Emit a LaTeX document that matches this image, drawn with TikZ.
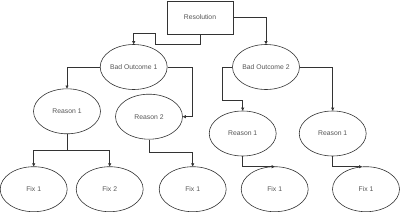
\documentclass[tikz,border=0pt]{standalone}
\usepackage{fontspec}
\setmainfont{Liberation Sans}
\usetikzlibrary{shapes.geometric,arrows.meta}
\definecolor{txt}{HTML}{555555}
\definecolor{ln}{HTML}{333333}
\tikzset{
  oval/.style={ellipse,draw=ln,line width=0.6pt,inner sep=0pt,minimum width=67pt,minimum height=45pt,font=\fontsize{6.8}{8}\selectfont,text=txt},
  boxn/.style={rectangle,draw=ln,line width=0.6pt,inner sep=0pt,minimum width=66pt,minimum height=33pt,font=\fontsize{6.8}{8}\selectfont,text=txt},
  conn/.style={draw=ln,line width=0.6pt,-{Triangle[width=3pt,length=3pt]}}
}
\begin{document}
\begin{tikzpicture}[x=1pt,y=-1pt]
\useasboundingbox (0,0) rectangle (400,212);
\node[boxn] (res) at (200,17.5) {Resolution};
\node[oval] (bo1) at (133.7,67) {Bad Outcome 1};
\node[oval] (bo2) at (266,67) {Bad Outcome 2};
\node[oval] (ra) at (67,111.3) {Reason 1};
\node[oval] (rb) at (149,116.7) {Reason 2};
\node[oval] (rc) at (242.7,133.5) {Reason 1};
\node[oval] (rd) at (332.7,133.5) {Reason 1};
\node[oval] (fa) at (33.7,189.2) {Fix 1};
\node[oval] (fb) at (109.7,189.2) {Fix 2};
\node[oval] (fc) at (192.7,189.2) {Fix 1};
\node[oval] (fd) at (274.7,189.2) {Fix 1};
\node[oval] (fe) at (366,189.2) {Fix 1};
\coordinate (jd) at (274.7,166.7);
\coordinate (je) at (362,166.7);
\draw[conn] (res.south) -- (200,44.7) -- (155.7,44.7) -- (155.7,33.7) -- (133.7,33.7) -- (bo1.north);
\draw[conn] (res.east) -| (bo2.north);
\draw[conn] (bo1.west) -| (ra.north);
\draw[conn] (bo1.east) -- (192.7,67) |- (rb.east);
\draw[conn] (bo2.west) -- (222.3,67) -- (222.3,100) -| (rc.north);
\draw[conn] (bo2.east) -| (rd.north);
\draw[conn] (ra.south) -- (67,150) -| (fa.north);
\draw[conn] (67,150) -| (fb.north);
\draw[conn] (rb.south) -- (149,152.3) -| (fc.north);
\draw[conn] (rc.south) |- (jd);
\draw[conn] (rd.south) |- (je);
\end{tikzpicture}
\end{document}
